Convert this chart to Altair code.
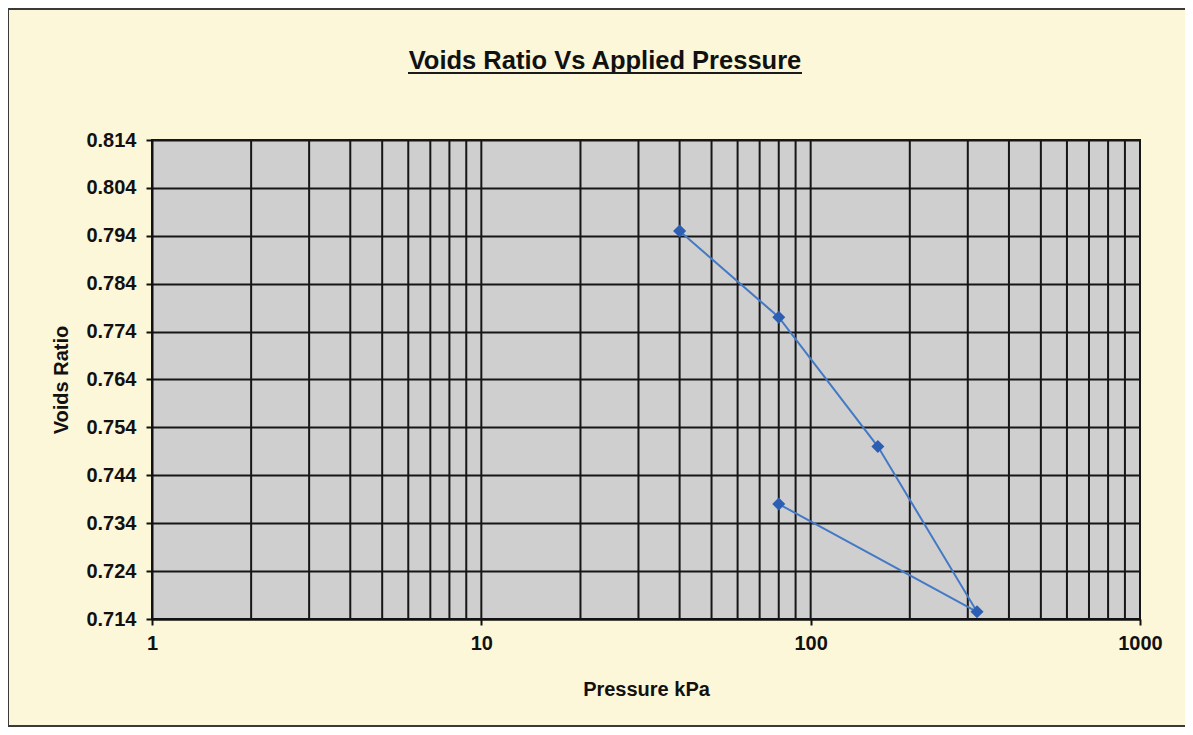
import altair as alt
import pandas as pd

# Data
pressure = [40, 80, 160, 320, 80]
voids_ratio = [0.795, 0.777, 0.750, 0.7155, 0.738]
load_step = [1, 2, 3, 4, 5]

x_major = [1, 10, 100, 1000]
x_minor = [2, 3, 4, 5, 6, 7, 8, 9, 10,
           20, 30, 40, 50, 60, 70, 80, 90, 100,
           200, 300, 400, 500, 600, 700, 800, 900]
y_ticks = [0.714, 0.724, 0.734, 0.744, 0.754, 0.764, 0.774, 0.784, 0.794, 0.804, 0.814]

TITLE = "Voids Ratio Vs Applied Pressure"
FONT = "Liberation Sans"

df = pd.DataFrame({"pressure": pressure, "voids": voids_ratio, "step": load_step})
grid_df = pd.DataFrame({"p": x_minor})
dummy = pd.DataFrame({"k": [0]})

xscale = alt.Scale(type="log", domain=[1, 1000], nice=False)
yscale = alt.Scale(domain=[0.714, 0.814], nice=False, zero=False)

x_axis = alt.Axis(
    values=x_major, format="d", grid=False, title="Pressure kPa",
    labelFont=FONT, labelFontSize=20, labelFontWeight="bold", labelColor="#111",
    titleFont=FONT, titleFontSize=20, titleFontWeight="bold", titleColor="#111",
    titlePadding=26, labelPadding=8, tickSize=6, tickColor="#111", tickWidth=2,
    domainColor="#111", domainWidth=2, labelFlush=False,
)
y_axis = alt.Axis(
    values=y_ticks, format=".3f", grid=True, gridColor="#161616", gridWidth=2,
    title="Voids Ratio",
    labelFont=FONT, labelFontSize=20, labelFontWeight="bold", labelColor="#111",
    titleFont=FONT, titleFontSize=20, titleFontWeight="bold", titleColor="#111",
    titlePadding=14, labelPadding=10, tickSize=6, tickColor="#111", tickWidth=2,
    domainColor="#111", domainWidth=2,
)

X = alt.X("pressure:Q", scale=xscale, axis=x_axis)
Y = alt.Y("voids:Q", scale=yscale, axis=y_axis)

frame = alt.Chart(dummy).mark_rect(
    fill="transparent", stroke="#3a3a3a", strokeWidth=2
).encode(
    x=alt.value(-144), x2=alt.value(1100), y=alt.value(-131), y2=alt.value(586)
)

vgrid = alt.Chart(grid_df).mark_rule(color="#161616", strokeWidth=2).encode(
    x=alt.X("p:Q", scale=xscale, axis=x_axis)
)

line = alt.Chart(df).mark_line(color="#4479c6", strokeWidth=2).encode(
    x=X, y=Y, order="step:O"
)

pts = alt.Chart(df).mark_point(
    shape="diamond", filled=True, color="#2c5fb4", size=170, opacity=1
).encode(x=X, y=Y)

title_txt = alt.Chart(dummy).mark_text(
    font=FONT, fontSize=25.5, fontWeight="bold", color="#111",
    align="center", baseline="alphabetic",
).encode(x=alt.value(453), y=alt.value(-71), text=alt.value(TITLE))

underline = alt.Chart(dummy).mark_rule(color="#1a1a1a", strokeWidth=2).encode(
    x=alt.value(256), x2=alt.value(650), y=alt.value(-67)
)

chart = alt.layer(frame, vgrid, line, pts, title_txt, underline).properties(
    width=988,
    height=479,
    autosize=alt.AutoSizeParams(type="none"),
    padding={"left": 144, "top": 132, "right": 45, "bottom": 108},
    background="#fcf7d9",
).configure_view(
    fill="#cfcfcf", stroke="#161616", strokeWidth=2
)

chart.save("out.html", embed_options={"renderer": "svg", "actions": False})
